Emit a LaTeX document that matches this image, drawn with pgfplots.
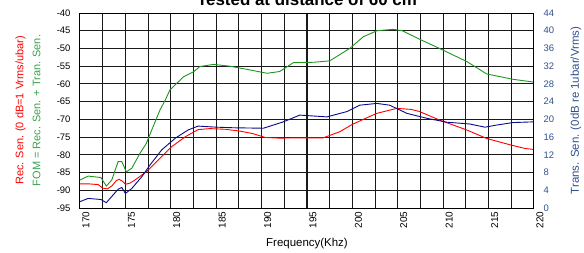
\documentclass[border=0pt]{standalone}
\usepackage{pgfplots}
\pgfplotsset{compat=1.18}
\usepackage{fontspec}
\setmainfont{Liberation Sans}
\definecolor{recred}{RGB}{255,0,0}
\definecolor{fomgreen}{RGB}{30,150,30}
\definecolor{fomlabel}{RGB}{60,160,80}
\definecolor{transblue}{RGB}{10,10,140}
\definecolor{translabel}{RGB}{50,80,140}
\definecolor{gridc}{RGB}{25,25,25}
\begin{document}
\begin{tikzpicture}
% grid drawn as thin filled strips: 9.08bp per kHz, 17.7273bp per 5 dB
\foreach \i in {1,...,19} {
  \fill[gridc] ({\i*22.7bp-0.55bp},0bp) rectangle ({\i*22.7bp+0.55bp},195bp);
}
\foreach \j in {1,...,10} {
  \fill[gridc] (0bp,{\j*17.7273bp-0.55bp}) rectangle (454bp,{\j*17.7273bp+0.55bp});
}
\begin{axis}[
  at={(0,0)}, anchor=south west,
  width=454bp, height=195bp, scale only axis,
  xmin=170, xmax=220, ymin=-95, ymax=-40,
  xtick={170,175,...,220},
  ytick={-95,-90,...,-40},
  axis line style={black, line width=1bp},
  xtick pos=left, ytick pos=left,
  major tick length=0pt, minor tick length=0pt,
  x tick label style={rotate=90, anchor=east, font=\fontsize{10}{12}\selectfont},
  y tick label style={font=\fontsize{9.5}{10}\selectfont},
  /pgf/number format/assume math mode=true,
  xticklabel style={yshift=-6bp},
  yticklabel style={xshift=-6bp},
  xlabel={Frequency(Khz)},
  xlabel style={font=\fontsize{11.5}{12}\selectfont, at={(axis description cs:0.5,-0.18)}, anchor=center},
  ylabel={\textcolor{recred}{Rec. Sen. (0 dB=1 Vrms/ubar)}\\\textcolor{fomlabel}{FOM = Rec. Sen. + Tran. Sen.}},
  ylabel style={align=center, font=\fontsize{11}{17}\selectfont, at={(axis description cs:-0.1145,0.5)}, anchor=center},
]
\addplot[recred, line width=0.9bp] coordinates {
(170,-88.2) (171,-88.2) (172,-88.4) (172.5,-89.4) (173,-89.6) (173.5,-88.8)
(174,-87.3) (174.3,-86.9) (174.7,-87.5) (175,-88.3) (175.5,-88.0) (176,-87.2)
(177.3,-84.8) (178.6,-81.5) (180.1,-77.7) (181.6,-74.9) (183,-72.9) (184.3,-72.6)
(186,-72.8) (187.6,-73.3) (189,-74.0) (190.4,-75.1) (192,-75.3) (194,-75.2)
(196.8,-75.2) (198.6,-73.5) (200,-71.4) (201.9,-69.2) (202.7,-68.3) (204.9,-66.9)
(206.5,-67.2) (207.4,-67.8) (209.6,-70.2) (212.6,-73.0) (214.8,-75.4) (217.4,-77.2)
(219,-78.2) (220,-78.5)
};
\addplot[fomgreen, line width=0.9bp] coordinates {
(170,-87.1) (170.9,-86.0) (172.3,-86.4) (172.9,-88.8) (173.5,-87.1) (174.2,-81.9)
(174.6,-81.9) (175.1,-84.8) (175.7,-83.8) (176.6,-79.6) (177.3,-76.8) (177.9,-73.0)
(178.8,-67.4) (179.4,-64.5) (179.9,-61.7) (181.4,-58.0) (182.5,-56.6) (183.2,-55.1)
(184.7,-54.5) (186.5,-55.0) (188.4,-55.9) (190.6,-57.0) (192,-56.5) (193.5,-54.0)
(195.7,-53.9) (197.5,-53.5) (199.7,-50.0) (201.2,-46.7) (202.7,-45.0) (204.5,-44.6)
(205.5,-45.0) (207.4,-47.4) (209.6,-50.0) (212.6,-53.7) (214.8,-57.2) (217.7,-58.7)
(220,-59.5)
};
\end{axis}
\begin{axis}[
  at={(0,0)}, anchor=south west,
  width=454bp, height=195bp, scale only axis,
  xmin=170, xmax=220, ymin=0, ymax=44,
  ytick={0,4,...,44},
  axis x line=none, axis y line*=right,
  axis line style={black, line width=1bp, -},
  major tick length=0pt,
  /pgf/number format/assume math mode=true,
  y tick label style={font=\fontsize{9.5}{10}\selectfont, text=translabel, xshift=6bp},
  ylabel={Trans. Sen. (0dB re 1ubar/Vrms)},
  ylabel style={font=\fontsize{11.5}{13}\selectfont, text=translabel, at={(axis description cs:1.0925,0.5)}, anchor=center, rotate=0},
]
\addplot[transblue, line width=0.9bp] coordinates {
(170,1.44) (170.9,2.16) (172.3,1.92) (172.9,1.2) (174.2,4.24) (174.6,4.64)
(175.0,3.28) (175.7,4.4) (176.8,7.04) (177.7,9.68) (179.0,13.12) (180.5,15.76)
(181.9,17.6) (183.0,18.48) (185.0,18.24) (187.0,18.1) (190.2,18.0) (192.4,19.44)
(194.2,20.96) (197.2,20.56) (199.4,21.76) (200.8,23.2) (202.7,23.6) (204.1,23.2)
(206.0,21.36) (208.2,20.24) (210.4,19.36) (212.9,18.96) (214.6,18.24) (215.9,18.72)
(217.7,19.28) (220,19.44)
};
\end{axis}
\node[font=\bfseries\fontsize{17}{20}\selectfont, anchor=base] at (227bp,202bp) {Tested at distance of 60 cm};
\pgfresetboundingbox
\useasboundingbox (-80bp,-45bp) rectangle (504bp,208bp);
\end{tikzpicture}
\end{document}
